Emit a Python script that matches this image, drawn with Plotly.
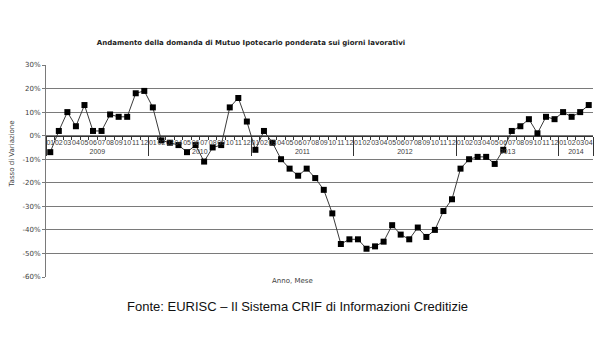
import plotly.graph_objects as go

years = ["2009"] * 12 + ["2010"] * 12 + ["2011"] * 12 + ["2012"] * 12 + ["2013"] * 12 + ["2014"] * 4
months = ["01", "02", "03", "04", "05", "06", "07", "08", "09", "10", "11", "12"] * 5 + ["01", "02", "03", "04"]
values = [
    -7, 2, 10, 4, 13, 2, 2, 9, 8, 8, 18, 19,          # 2009
    12, -2, -3, -4, -7, -4, -11, -5, -4, 12, 16, 6,    # 2010
    -6, 2, -3, -10, -14, -17, -14, -18, -23, -33, -46, -44,  # 2011
    -44, -48, -47, -45, -38, -42, -44, -39, -43, -40, -32, -27,  # 2012
    -14, -10, -9, -9, -12, -6, 2, 4, 7, 1, 8, 7,       # 2013
    10, 8, 10, 13,                                      # 2014
]
y_ticks = [30, 20, 10, 0, -10, -20, -30, -40, -50, -60]
y_labels = [f"{v}%" for v in y_ticks]

fig = go.Figure()
fig.add_trace(go.Scatter(
    x=[years, months], y=values, mode="lines+markers",
    line=dict(color="#3a3a3a", width=1),
    marker=dict(symbol="square", size=6, color="black"),
    showlegend=False, cliponaxis=False,
))

font_small = dict(family="DejaVu Sans", size=7, color="#404040")
font_x = dict(family="Liberation Sans", size=7, color="#404040")
ymin, ymax = -60, 30
fig.update_layout(
    width=600, height=360,
    margin=dict(l=46, r=7, t=65, b=83),
    paper_bgcolor="white", plot_bgcolor="white",
    title=dict(
        text="<b>Andamento della domanda di Mutuo Ipotecario ponderata sui giorni lavorativi</b>",
        font=dict(family="DejaVu Sans", size=7, color="#222"),
        x=251 / 600, xref="container", xanchor="center",
        y=1 - 43 / 360, yref="container", yanchor="middle",
    ),
    xaxis=dict(
        type="multicategory", automargin=False,
        range=[-0.5, len(values) - 0.5],
        anchor="free", position=(0 - ymin) / (ymax - ymin),
        showline=True, linecolor="#333", linewidth=1,
        ticks="outside", ticklen=3, tickcolor="#333", tickson="boundaries",
        tickmode="linear", dtick=1,
        showdividers=True, dividercolor="#333", dividerwidth=1,
        tickangle=0, tickfont=font_x,
        showgrid=False, zeroline=False,
    ),
    yaxis=dict(
        range=[ymin, ymax], tickmode="array", tickvals=y_ticks, ticktext=y_labels,
        automargin=False,
        showgrid=True, gridcolor="#7a7a7a", gridwidth=1,
        zeroline=False, showline=True, linecolor="#7a7a7a",
        ticks="outside", ticklen=3, tickcolor="#7a7a7a",
        tickfont=font_small,
    ),
    annotations=[
        dict(text="Tasso di Variazione", textangle=-90, xref="paper", yref="paper",
             x=(5.5 - 46) / 547, y=(277 - 154) / 212, showarrow=False, font=font_small),
        dict(text="Anno, Mese", xref="paper", yref="paper",
             x=(292 - 46) / 547, y=(277 - 287) / 212, showarrow=False, font=font_small),
        dict(text="Fonte: EURISC \u2013 Il Sistema CRIF di Informazioni Creditizie",
             xref="paper", yref="paper", x=(297 - 46) / 547, y=(277 - 316) / 212,
             showarrow=False, font=dict(family="Liberation Sans", size=13, color="#111")),
    ],
)

fig.write_html("out.html", post_script="document.body.style.margin='0';",
               config={"displayModeBar": False})
